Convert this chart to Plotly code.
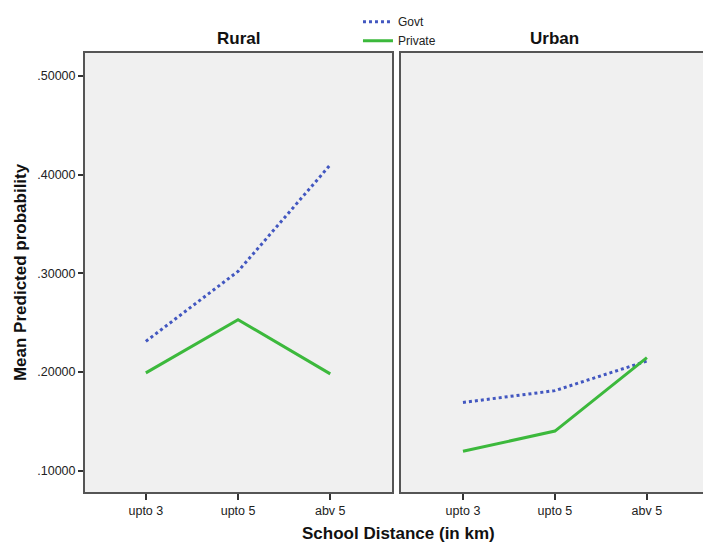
import plotly.graph_objects as go

categories = ["upto 3", "upto 5", "abv 5"]
panels = ["Rural", "Urban"]
govt_rural = [0.231, 0.302, 0.410]
private_rural = [0.199, 0.253, 0.198]
govt_urban = [0.169, 0.181, 0.211]
private_urban = [0.1195, 0.140, 0.2145]
ytick_vals = [0.1, 0.2, 0.3, 0.4, 0.5]
ytick_text = [".10000", ".20000", ".30000", ".40000", ".50000"]

BLUE = "#4257c0"
GREEN = "#3cb93c"
FONT = "Arial, Liberation Sans, sans-serif"

fig = go.Figure()
series = [
    ("Govt", govt_rural, govt_urban, BLUE, "dot"),
    ("Private", private_rural, private_urban, GREEN, "solid"),
]
for name, r, u, col, dash in series:
    fig.add_trace(go.Scatter(x=categories, y=r, mode="lines", name=name,
                             line=dict(color=col, width=3, dash=dash),
                             xaxis="x", yaxis="y", legendgroup=name))
    fig.add_trace(go.Scatter(x=categories, y=u, mode="lines", name=name,
                             line=dict(color=col, width=3, dash=dash),
                             xaxis="x2", yaxis="y2", legendgroup=name, showlegend=False))

yr = [0.0782, 0.5234]
TICKFONT = dict(family=FONT, size=12.5, color="#222222")
common_x = dict(type="category", showgrid=False, zeroline=False, showline=True,
                linecolor="#555555", linewidth=2, mirror=True, ticks="outside",
                ticklen=6, tickwidth=2, tickcolor="#333333", tickfont=TICKFONT)
fig.update_layout(
    width=703, height=543,
    margin=dict(l=85, r=0, t=53, b=51, autoexpand=False),
    paper_bgcolor="white", plot_bgcolor="rgba(0,0,0,0)",
    font=dict(family=FONT, color="#222222"),
    xaxis=dict(domain=[0, 0.4968], range=[-0.66, 2.67], **common_x),
    xaxis2=dict(domain=[0.5113, 1.0], range=[-0.674, 2.61], **common_x),
    yaxis=dict(range=yr, tickvals=ytick_vals, ticktext=ytick_text, showgrid=False,
               zeroline=False, showline=True, linecolor="#555555", linewidth=2,
               mirror=True, ticks="outside", ticklen=5, tickwidth=2, tickcolor="#333333",
               tickfont=TICKFONT),
    yaxis2=dict(range=yr, anchor="x2", showticklabels=False, showgrid=False,
                zeroline=False, showline=True, linecolor="#555555", linewidth=2,
                mirror=False, ticks=""),
    legend=dict(x=0.4417, y=1.1044, xanchor="left", yanchor="top",
                bgcolor="rgba(0,0,0,0)", font=dict(family=FONT, size=12, color="#222222"),
                tracegroupgap=0, itemwidth=30),
    showlegend=True,
)
# panel backgrounds
for xr in ["x", "x2"]:
    fig.add_shape(type="rect", xref=xr + " domain", yref="y domain", x0=0, x1=1, y0=0, y1=1,
                  fillcolor="#f0f0f0", line=dict(width=0), layer="below")

TITLEFONT = dict(family=FONT, size=17, color="#111111")
annotations = [
    dict(text="<b>Rural</b>", x=0.2484, xref="paper", xanchor="center", y=1, yref="paper",
         yanchor="middle", yshift=15, showarrow=False, font=TITLEFONT),
    dict(text="<b>Urban</b>", x=0.7605, xref="paper", xanchor="center", y=1, yref="paper",
         yanchor="middle", yshift=15, showarrow=False, font=TITLEFONT),
    dict(text="<b>School Distance (in km)</b>", x=0.5065, xref="paper", xanchor="center",
         y=0, yref="paper", yanchor="middle", yshift=-41, showarrow=False, font=TITLEFONT),
    dict(text="<b>Mean Predicted probability</b>", x=0, xref="paper", y=0.501, yref="paper",
         xanchor="center", yanchor="middle", xshift=-65, textangle=-90, showarrow=False,
         font=TITLEFONT),
]
fig.update_layout(annotations=annotations)
# remove the browser's default 8px body margin so the 703x543 figure fills the window
fig.write_html("out.html", config={"displayModeBar": False},
               post_script="document.body.style.margin='0';document.body.style.overflow='hidden';")
